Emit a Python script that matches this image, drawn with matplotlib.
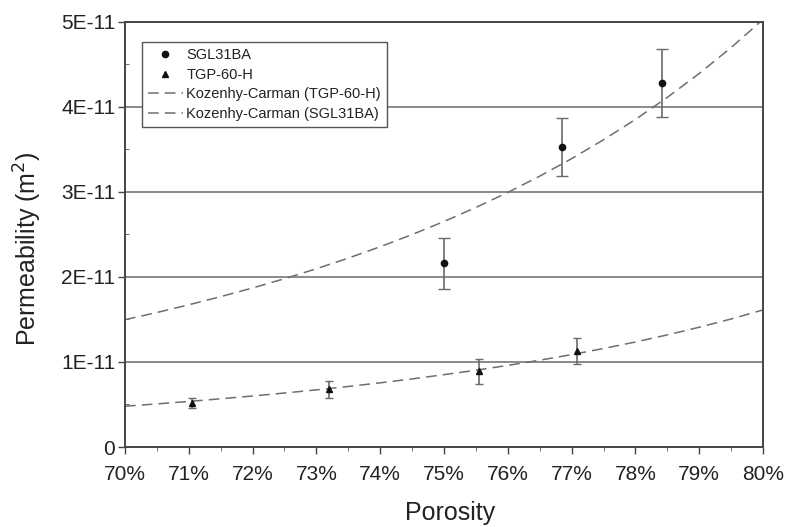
import matplotlib
matplotlib.use("Agg")
import matplotlib.pyplot as plt
from matplotlib.ticker import MultipleLocator, FuncFormatter

plt.rcParams['font.family'] = ['Liberation Sans', 'DejaVu Sans']

# Measured data (porosity in %, permeability in units of 1E-11 m^2)
sgl_por = [75.0, 76.85, 78.42]
sgl_perm = [2.16, 3.53, 4.28]
sgl_err = [0.30, 0.34, 0.40]

tgp_por = [71.05, 73.2, 75.55, 77.08]
tgp_perm = [0.52, 0.68, 0.89, 1.13]
tgp_err = [0.06, 0.10, 0.15, 0.15]

# Kozeny-Carman curves
kc_por = [70.0, 70.5, 71.0, 71.5, 72.0, 72.5, 73.0, 73.5, 74.0, 74.5, 75.0,
          75.5, 76.0, 76.5, 77.0, 77.5, 78.0, 78.5, 79.0, 79.5, 80.0]
kc_sgl = [1.498, 1.582, 1.673, 1.769, 1.871, 1.980, 2.097, 2.222, 2.356, 2.499, 2.653,
          2.818, 2.995, 3.186, 3.392, 3.614, 3.853, 4.113, 4.394, 4.699, 5.030]
kc_tgp = [0.480, 0.507, 0.536, 0.567, 0.600, 0.635, 0.672, 0.712, 0.755, 0.801, 0.851,
          0.903, 0.960, 1.021, 1.087, 1.159, 1.235, 1.319, 1.409, 1.506, 1.613]

y_ticklabels = ['0', '1E-11', '2E-11', '3E-11', '4E-11', '5E-11']

fig = plt.figure(figsize=(7.93, 5.27), dpi=100)
ax = fig.add_axes([0.1576, 0.1518, 0.8046, 0.8065])

for y in range(1, 6):
    ax.axhline(y, color='#8a8a8a', lw=1.4, zorder=1)

dash = (0, (7, 4))
l_tgp, = ax.plot(kc_por, kc_tgp, color='#6e6e6e', lw=1.1, linestyle=dash, zorder=2,
                 label='Kozenhy-Carman (TGP-60-H)')
l_sgl, = ax.plot(kc_por, kc_sgl, color='#6e6e6e', lw=1.1, linestyle=dash, zorder=2,
                 label='Kozenhy-Carman (SGL31BA)')

ax.errorbar(sgl_por, sgl_perm, yerr=sgl_err, fmt='none', ecolor='#6a6a6a',
            elinewidth=1.2, capsize=4, capthick=1.0, zorder=3)
ax.errorbar(tgp_por, tgp_perm, yerr=tgp_err, fmt='none', ecolor='#6a6a6a',
            elinewidth=1.2, capsize=3, capthick=1.0, zorder=3)
m_sgl, = ax.plot(sgl_por, sgl_perm, 'o', color='#111111', ms=4.5, ls='none',
                 zorder=4, label='SGL31BA')
m_tgp, = ax.plot(tgp_por, tgp_perm, '^', color='#111111', ms=5, ls='none',
                 zorder=4, label='TGP-60-H')

ax.set_xlim(70, 80)
ax.set_ylim(0, 5)
ax.xaxis.set_major_locator(MultipleLocator(1))
ax.xaxis.set_minor_locator(MultipleLocator(0.5))
ax.yaxis.set_major_locator(MultipleLocator(1))
ax.yaxis.set_minor_locator(MultipleLocator(0.5))
ax.xaxis.set_major_formatter(FuncFormatter(lambda v, p: f"{int(round(v))}%"))
ax.set_yticks(range(6))
ax.set_yticklabels(y_ticklabels)

for s in ax.spines.values():
    s.set_color('#444444')
    s.set_linewidth(1.4)

ax.tick_params(axis='both', which='major', labelsize=15, colors='#444444',
               labelcolor='#222222', length=5, width=1.0, direction='out')
ax.tick_params(axis='y', which='minor', length=3, direction='in', colors='#555555')
ax.tick_params(axis='x', which='minor', length=3, direction='out', colors='#555555')
ax.tick_params(axis='y', which='major', pad=2)
ax.tick_params(axis='x', which='major', pad=8)

ax.set_xlabel('Porosity', fontsize=18, color='#222222', labelpad=12)
ax.set_ylabel('Permeability (m$^2$)', fontsize=18, color='#222222', labelpad=12)
ax.yaxis.label.set_y(0.466)
ax.xaxis.label.set_x(0.51)

leg = ax.legend(handles=[m_sgl, m_tgp, l_tgp, l_sgl], loc='upper left',
                bbox_to_anchor=(0.0266, 0.953), fontsize=10.5, frameon=True,
                fancybox=False, edgecolor='#555555', framealpha=1,
                handlelength=2.4, handletextpad=0.25, borderpad=0.4,
                labelspacing=0.4, borderaxespad=0)
leg.get_frame().set_linewidth(1.0)
for t in leg.get_texts():
    t.set_color('#222222')

fig.savefig('out.png', dpi=100)
